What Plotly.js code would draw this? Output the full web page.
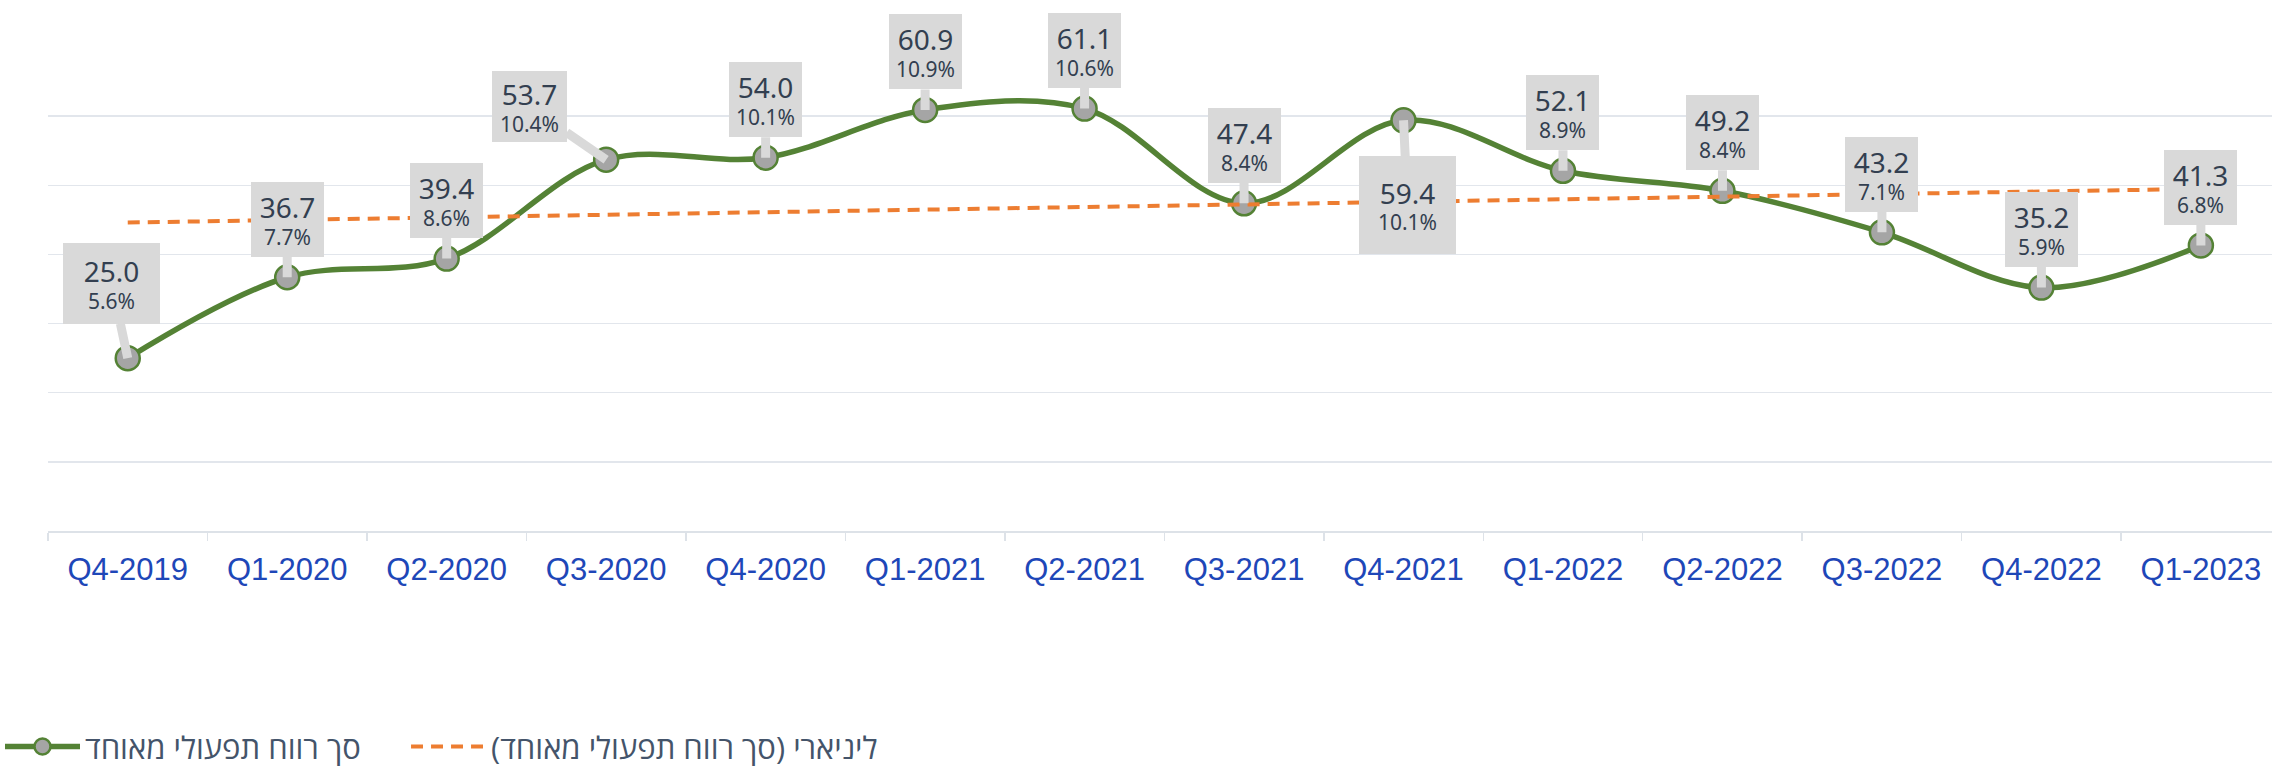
<!DOCTYPE html>
<html><head><meta charset="utf-8">
<script src="https://cdn.plot.ly/plotly-3.0.1.min.js"></script>
<style>html,body{margin:0;padding:0;background:#fff;} #chart{width:2272px;height:769px;}</style>
</head><body><div id="chart"></div>
<script>
// ---- data ----
const quarters = ['Q4-2019','Q1-2020','Q2-2020','Q3-2020','Q4-2020','Q1-2021','Q2-2021','Q3-2021','Q4-2021','Q1-2022','Q2-2022','Q3-2022','Q4-2022','Q1-2023'];
const operatingProfit = [25.0, 36.7, 39.4, 53.7, 54.0, 60.9, 61.1, 47.4, 59.4, 52.1, 49.2, 43.2, 35.2, 41.3];
const marginPct = [5.6, 7.7, 8.6, 10.4, 10.1, 10.9, 10.6, 8.4, 10.1, 8.9, 8.4, 7.1, 5.9, 6.8];
const seriesName = 'סך רווח תפעולי מאוחד';
const trendName = 'ליניארי (סך רווח תפעולי מאוחד)';

// ---- linear trendline (least squares over the series, as Excel does) ----
const n = operatingProfit.length;
const xIdx = operatingProfit.map((_, i) => i);
const mx = xIdx.reduce((a, b) => a + b, 0) / n;
const my = operatingProfit.reduce((a, b) => a + b, 0) / n;
let sxy = 0, sxx = 0;
xIdx.forEach((x, i) => { sxy += (x - mx) * (operatingProfit[i] - my); sxx += (x - mx) * (x - mx); });
const slope = sxy / sxx, icpt = my - slope * mx;
const trendValues = xIdx.map(x => icpt + slope * x);

// ---- label placement (layout only) ----
const labelDefault = {ax: 0, ay: -58, w: 73, h: 75};
const labelOverrides = {
  0: {ax: -16, ay: -75, w: 97, h: 81},
  3: {ax: -77, ay: -53, w: 75, h: 71},
  8: {ax: 4, ay: 85, w: 97, h: 98}
};

const numFont = 'Noto Sans, Open Sans, sans-serif';
const labelColor = '#333F50';

const annotations = quarters.map((q, i) => {
  const p = Object.assign({}, labelDefault, labelOverrides[i] || {});
  return {
    x: q, y: operatingProfit[i], xref: 'x', yref: 'y',
    ax: p.ax, ay: p.ay,
    showarrow: true, arrowhead: 0, arrowwidth: 9, arrowcolor: '#D9D9D9', standoff: 0,
    text: '<span style="font-size:28px">' + operatingProfit[i].toFixed(1) + '</span><br>' +
          '<span style="font-size:21px">' + marginPct[i].toFixed(1) + '%</span>',
    font: {family: numFont, size: 20.5, color: labelColor},
    bgcolor: '#D9D9D9', borderpad: 0, borderwidth: 0,
    width: p.w, height: p.h, align: 'center', valign: 'middle'
  };
});

// legend spacing after the first entry (non-breaking spaces)
const legendGap = '\u00A0\u00A0\u00A0\u00A0\u00A0';

const traces = [
  {
    type: 'scatter', mode: 'lines+markers', name: seriesName + legendGap,
    x: quarters, y: operatingProfit,
    line: {color: '#548235', width: 5.5, shape: 'spline', smoothing: 1},
    marker: {symbol: 'circle', size: 24, color: '#A5A5A5', line: {color: '#548235', width: 2.5}},
    hoverinfo: 'skip'
  },
  {
    type: 'scatter', mode: 'lines', name: trendName,
    x: quarters, y: trendValues,
    line: {color: '#ED7D31', width: 4, dash: '12px,8px'},
    hoverinfo: 'skip'
  }
];

const layout = {
  width: 2272, height: 769,
  margin: {l: 48, r: 0, t: 47, b: 238, pad: 0, autoexpand: false},
  paper_bgcolor: '#FFFFFF', plot_bgcolor: '#FFFFFF',
  showlegend: true,
  legend: {
    orientation: 'h', xref: 'container', yref: 'paper',
    x: 0, y: -0.446, xanchor: 'left', yanchor: 'middle',
    font: {family: 'Open Sans, Liberation Sans, DejaVu Sans, sans-serif', size: 31, color: '#44546A'},
    itemwidth: 75, traceorder: 'normal'
  },
  xaxis: {
    type: 'category', range: [-0.5, 13.446],
    tickson: 'boundaries', ticks: 'outside', ticklen: 8, tickwidth: 1.5, tickcolor: '#DDE2E8',
    showline: true, linecolor: '#DDE2E8', linewidth: 2,
    showgrid: false, zeroline: false, ticklabelstandoff: 10,
    tickfont: {family: 'Liberation Sans, Arial, sans-serif', size: 31, color: '#1E47B8'}
  },
  yaxis: {
    range: [0, 70], dtick: 10, tick0: 0,
    showticklabels: false, showgrid: true, gridcolor: '#E2E6EC', gridwidth: 1.5,
    zeroline: false, showline: false, ticks: ''
  },
  annotations: annotations
};

Plotly.newPlot('chart', traces, layout, {staticPlot: true, displayModeBar: false});
</script>
</body></html>
